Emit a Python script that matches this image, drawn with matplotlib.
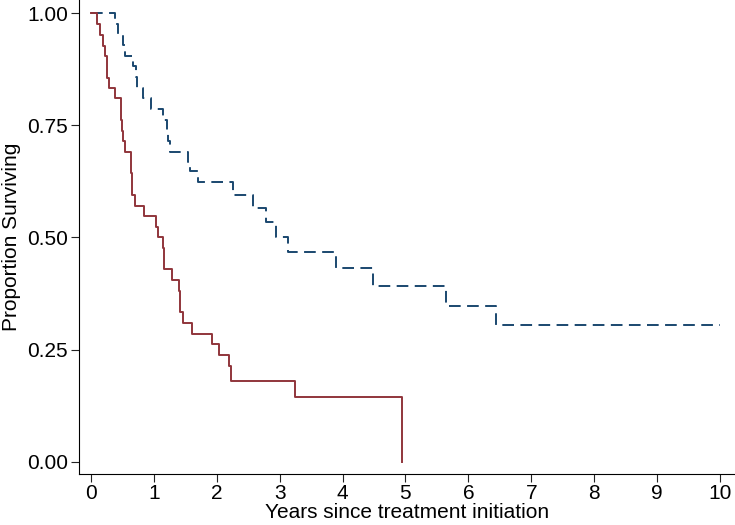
import matplotlib
matplotlib.use("Agg")
import matplotlib.pyplot as plt

# red (solid) group: event times in years and survival after each step
red_t = [0, 0.10, 0.14, 0.19, 0.23, 0.26, 0.29, 0.38, 0.47, 0.49, 0.51, 0.54,
         0.63, 0.66, 0.70, 0.85, 1.03, 1.07, 1.14, 1.16, 1.29, 1.40, 1.42,
         1.46, 1.60, 1.92, 2.03, 2.20, 2.23, 3.25, 4.95]
red_s = [1.0, 0.976, 0.952, 0.927, 0.905, 0.856, 0.834, 0.810, 0.762, 0.738,
         0.714, 0.690, 0.643, 0.595, 0.571, 0.548, 0.524, 0.500, 0.476, 0.429,
         0.405, 0.381, 0.333, 0.310, 0.286, 0.262, 0.238, 0.214, 0.180, 0.145,
         0.0]

# blue (dashed) group
blue_t = [0, 0.39, 0.43, 0.51, 0.54, 0.67, 0.72, 0.74, 0.83, 0.95, 1.15, 1.21,
          1.22, 1.25, 1.54, 1.58, 1.70, 2.26, 2.58, 2.79, 2.95, 3.14, 3.89,
          4.49, 5.64, 6.44, 10.0]
blue_s = [1.0, 0.976, 0.952, 0.929, 0.905, 0.881, 0.857, 0.833, 0.810, 0.786,
          0.762, 0.738, 0.714, 0.690, 0.667, 0.647, 0.624, 0.595, 0.565,
          0.534, 0.500, 0.467, 0.432, 0.392, 0.347, 0.305, 0.305]

x_ticks = list(range(0, 11))
y_ticks = [0.0, 0.25, 0.5, 0.75, 1.0]

plt.rcParams['font.family'] = ['Liberation Sans', 'DejaVu Sans']

fig = plt.figure(figsize=(7.35, 5.25), dpi=100)
ax = fig.add_axes([79/735, 51/525, 656/735, 474/525])

ax.step(blue_t, blue_s, where="post", color="#1a476f", lw=1.4,
        linestyle=(0, (6, 3.3)))
ax.step(red_t, red_s, where="post", color="#90353b", lw=1.4)

ax.set_xlim(-0.19, 10.24)
ax.set_ylim(-0.027, 1.029)
ax.set_xticks(x_ticks)
ax.set_yticks(y_ticks)
ax.set_yticklabels(["%.2f" % v for v in y_ticks])
ax.tick_params(labelsize=15, length=6, width=0.8, direction="out", pad=2,
               colors="#222222", labelcolor="black")
ax.tick_params(axis="x", pad=1)

for s in ["top", "right"]:
    ax.spines[s].set_visible(False)
for s in ["left", "bottom"]:
    ax.spines[s].set_linewidth(0.8)

ax.set_xlabel("Years since treatment initiation", fontsize=15, labelpad=0)
ax.set_ylabel("Proportion Surviving", fontsize=15, labelpad=4)

fig.savefig("out.png", dpi=100)
